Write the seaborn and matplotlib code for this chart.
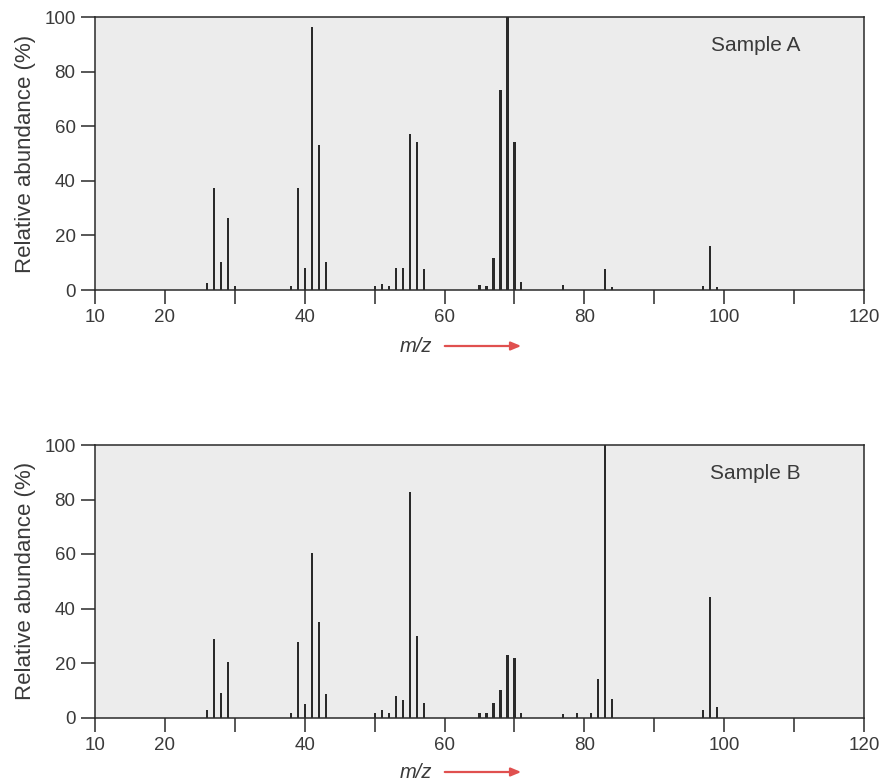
import matplotlib
matplotlib.use("Agg")
import matplotlib.pyplot as plt
import seaborn as sns
import pandas as pd

# ---- data ----
mz_a = [26, 27, 28, 29, 30, 38, 39, 40, 41, 42, 43,
        50, 51, 52, 53, 54, 55, 56, 57,
        65, 66, 67, 68, 69, 70, 71, 77, 83, 84, 97, 98, 99]
ab_a = [2.7, 37.5, 10.4, 26.2, 1.6, 1.6, 37.5, 8.0, 96.5, 53.0, 10.3,
        1.5, 2.3, 1.6, 8.0, 8.0, 57.0, 54.2, 7.7,
        1.7, 1.3, 11.8, 73.3, 100.0, 54.3, 2.9, 1.7, 7.6, 1.2, 1.3, 16.1, 1.2]

mz_b = [26, 27, 28, 29, 38, 39, 40, 41, 42, 43,
        50, 51, 52, 53, 54, 55, 56, 57,
        65, 66, 67, 68, 69, 70, 71, 77, 79, 81, 82, 83, 84, 97, 98, 99]
ab_b = [2.7, 28.9, 8.9, 20.2, 1.6, 27.6, 5.1, 60.5, 35.0, 8.6,
        1.7, 2.7, 1.5, 7.8, 6.5, 82.9, 29.8, 5.3,
        1.7, 1.6, 5.3, 10.0, 22.8, 21.7, 1.6, 1.3, 1.6, 1.6, 14.0, 100.0, 6.7, 2.8, 44.1, 4.0]

samples = ["Sample A", "Sample B"]
y_ticks = [0, 20, 40, 60, 80, 100]
x_ticks = [10, 20, 30, 40, 50, 60, 70, 80, 90, 100, 110, 120]
x_ticklabels = ["10", "20", "", "40", "", "60", "", "80", "", "100", "", "120"]
y_label = "Relative abundance (%)"
x_label = "m/z"

sns.set_theme(style="ticks")
plt.rcParams["font.family"] = ["Liberation Sans", "DejaVu Sans"]

W, H = 883, 781
fig = plt.figure(figsize=(W / 100, H / 100), dpi=100)
fig.patch.set_facecolor("white")

ink = "#2a2a2a"
txt = "#3a3a3a"

panels = [
    (mz_a, ab_a, samples[0], 17, 290, 347),
    (mz_b, ab_b, samples[1], 445, 717.5, 773),
]

for mz, ab, name, top_px, bot_px, lab_px in panels:
    ax = fig.add_axes([95 / W, 1 - bot_px / H, (864 - 95) / W, (bot_px - top_px) / H])
    ax.set_facecolor("#ececec")
    df = pd.DataFrame({"mz": mz, "ab": ab})
    sns.barplot(data=df, x="mz", y="ab", native_scale=True, width=0.3,
                color=ink, saturation=1, errorbar=None, linewidth=0, ax=ax)
    ax.set_xlim(10, 120)
    ax.set_ylim(0, 100)
    ax.set_xticks(x_ticks)
    ax.set_xticklabels(x_ticklabels)
    ax.set_yticks(y_ticks)
    ax.set_xlabel("")
    ax.set_ylabel(y_label, fontsize=16, color=txt, labelpad=6)
    ax.tick_params(axis="both", direction="out", length=10, width=1.1,
                   colors=ink, labelcolor=txt, labelsize=13.5, pad=4)
    for s in ax.spines.values():
        s.set_visible(True)
        s.set_color(ink)
        s.set_linewidth(1.1)
    ax.text(0.859, 0.897, name, transform=ax.transAxes, fontsize=15,
            color=txt, ha="center", va="center")
    # x label with red arrow
    fig.text(416 / W, 1 - lab_px / H, x_label, style="italic", fontsize=14.5,
             color=txt, ha="center", va="center")
    fig.patches.append(matplotlib.patches.FancyArrowPatch(
        (442 / W, 1 - (lab_px - 1) / H), (524 / W, 1 - (lab_px - 1) / H),
        transform=fig.transFigure, arrowstyle="-|>,head_length=6,head_width=2.5",
        color="#e0504f", linewidth=1.6, mutation_scale=1))

fig.savefig("out.png", dpi=100)
